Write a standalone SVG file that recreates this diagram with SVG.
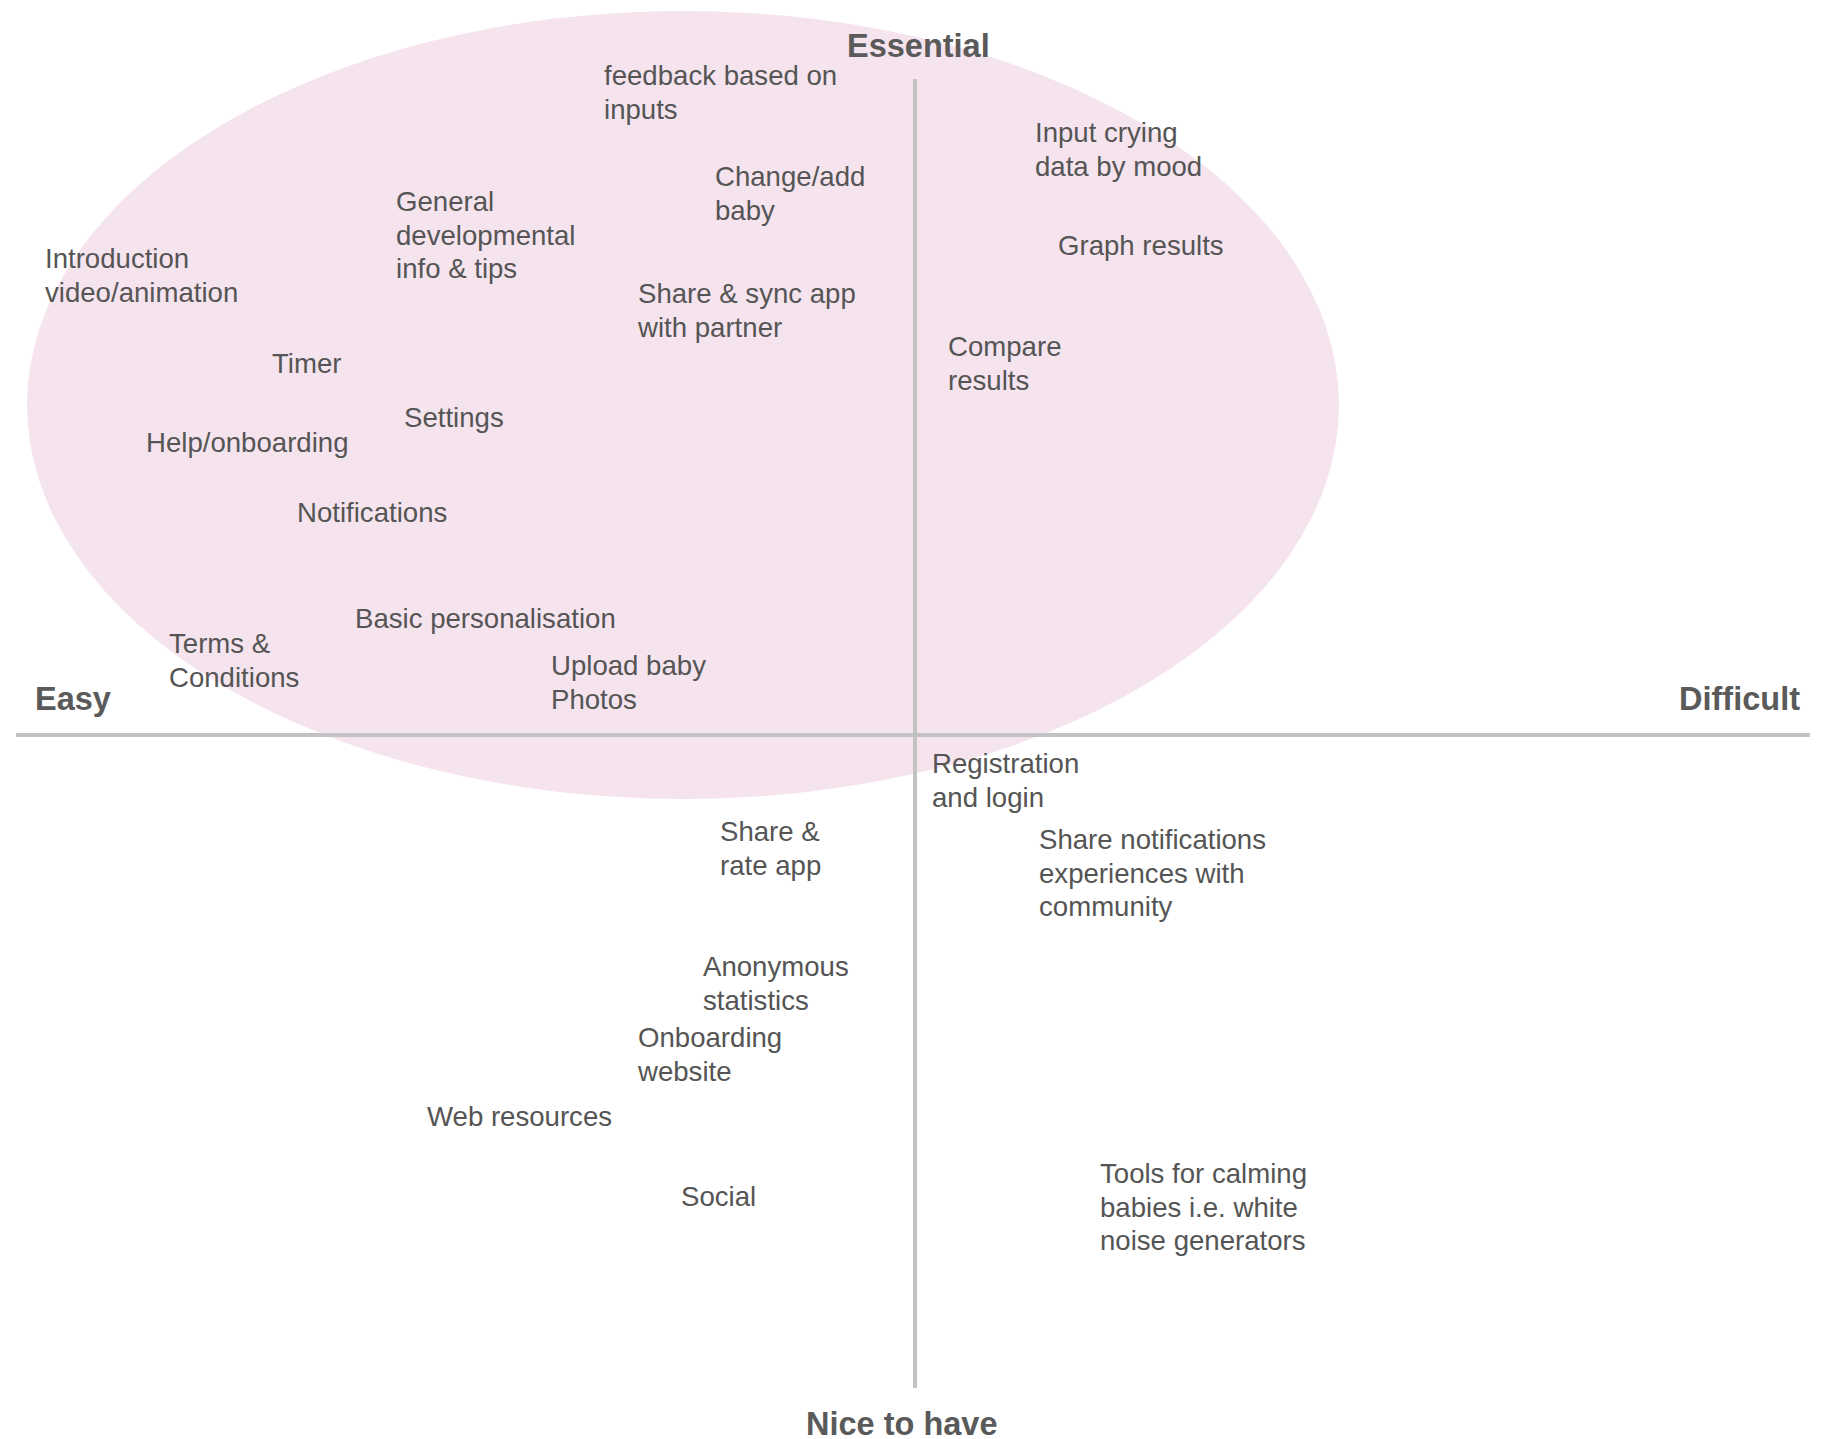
<svg xmlns="http://www.w3.org/2000/svg" width="1826" height="1439" viewBox="0 0 1826 1439">
<style>
.t{font-family:"Liberation Sans",Arial,sans-serif;font-size:27.6px;fill:#555}
.b{font-family:"Liberation Sans",Arial,sans-serif;font-size:32.5px;font-weight:bold;fill:#5a5a5a}
.ax{stroke:#c2c2c2;stroke-width:4;fill:none}
</style>
<rect width="1826" height="1439" fill="#fff"/>
<g id="essential-zone"><ellipse cx="683" cy="405" rx="656" ry="394" fill="#f5e4ee"/></g>
<g id="axes">
<line class="ax" x1="16" y1="735" x2="1810" y2="735"/>
<line class="ax" x1="915" y1="79" x2="915" y2="1388"/>
</g>
<g id="axis-labels">
<text class="b" x="847" y="57">Essential</text>
<text class="b" x="35" y="710">Easy</text>
<text class="b" x="1800" y="710" text-anchor="end">Difficult</text>
<text class="b" x="806" y="1435">Nice to have</text>
</g>
<g id="n-feedback"><text class="t" x="604" y="85">feedback based on<tspan x="604" dy="33.5">inputs</tspan></text></g>
<g id="n-change-baby"><text class="t" x="715" y="186">Change/add<tspan x="715" dy="33.5">baby</tspan></text></g>
<g id="n-general-info"><text class="t" x="396" y="211">General<tspan x="396" dy="33.5">developmental</tspan><tspan x="396" dy="33.5">info &amp; tips</tspan></text></g>
<g id="n-intro"><text class="t" x="45" y="268">Introduction<tspan x="45" dy="33.5">video/animation</tspan></text></g>
<g id="n-share-sync"><text class="t" x="638" y="303">Share &amp; sync app<tspan x="638" dy="33.5">with partner</tspan></text></g>
<g id="n-timer"><text class="t" x="272" y="373">Timer</text></g>
<g id="n-settings"><text class="t" x="404" y="427">Settings</text></g>
<g id="n-help"><text class="t" x="146" y="452">Help/onboarding</text></g>
<g id="n-notifications"><text class="t" x="297" y="522">Notifications</text></g>
<g id="n-personalisation"><text class="t" x="355" y="628">Basic personalisation</text></g>
<g id="n-terms"><text class="t" x="169" y="653">Terms &amp;<tspan x="169" dy="33.5">Conditions</tspan></text></g>
<g id="n-upload"><text class="t" x="551" y="675">Upload baby<tspan x="551" dy="33.5">Photos</tspan></text></g>
<g id="n-input-crying"><text class="t" x="1035" y="142">Input crying<tspan x="1035" dy="33.5">data by mood</tspan></text></g>
<g id="n-graph"><text class="t" x="1058" y="255">Graph results</text></g>
<g id="n-compare"><text class="t" x="948" y="356">Compare<tspan x="948" dy="33.5">results</tspan></text></g>
<g id="n-registration"><text class="t" x="932" y="773">Registration<tspan x="932" dy="33.5">and login</tspan></text></g>
<g id="n-share-rate"><text class="t" x="720" y="841">Share &amp;<tspan x="720" dy="33.5">rate app</tspan></text></g>
<g id="n-share-notifications"><text class="t" x="1039" y="849">Share notifications<tspan x="1039" dy="33.5">experiences with</tspan><tspan x="1039" dy="33.5">community</tspan></text></g>
<g id="n-anonymous"><text class="t" x="703" y="976">Anonymous<tspan x="703" dy="33.5">statistics</tspan></text></g>
<g id="n-onboarding-web"><text class="t" x="638" y="1047">Onboarding<tspan x="638" dy="33.5">website</tspan></text></g>
<g id="n-web-resources"><text class="t" x="427" y="1126">Web resources</text></g>
<g id="n-social"><text class="t" x="681" y="1206">Social</text></g>
<g id="n-tools"><text class="t" x="1100" y="1183">Tools for calming<tspan x="1100" dy="33.5">babies i.e. white</tspan><tspan x="1100" dy="33.5">noise generators</tspan></text></g>
</svg>
